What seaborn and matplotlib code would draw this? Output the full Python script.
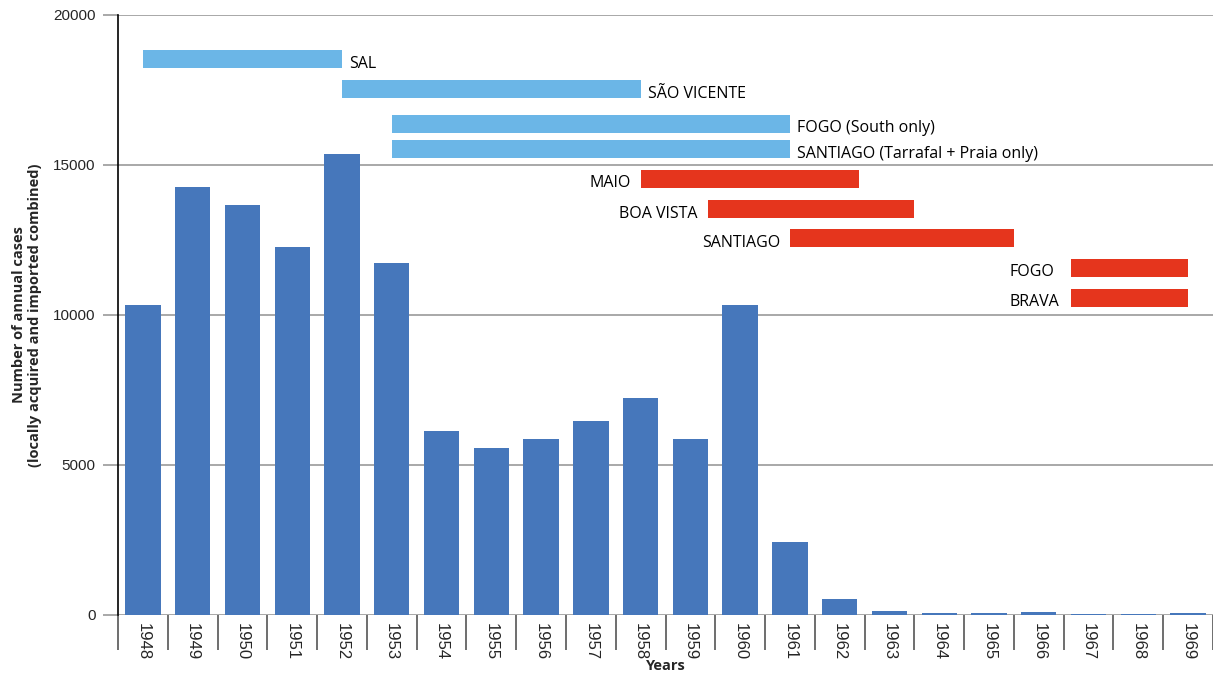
import matplotlib
matplotlib.use("Agg")
import matplotlib.pyplot as plt
import seaborn as sns
import pandas as pd
from matplotlib.ticker import FixedLocator, MultipleLocator

# annual malaria cases, Cabo Verde
years = [str(y) for y in range(1948, 1970)]
cases = [10350, 14280, 13650, 12280, 15350, 11720, 6150, 5580, 5880, 6480,
         7230, 5880, 10320, 2450, 540, 140, 60, 60, 100, 25, 25, 60]

# spraying periods (start / end in years, row level in cases)
ds_islands = ["SAL", "SÃO VICENTE", "FOGO (South only)", "SANTIAGO (Tarrafal + Praia only)"]
ds_start = [1948, 1952, 1953, 1953]
ds_end = [1952, 1958, 1961, 1961]
ds_level = [18530, 17520, 16380, 15520]

red_islands = ["MAIO", "BOA VISTA", "SANTIAGO", "FOGO", "BRAVA"]
red_start = [1958, 1959.35, 1961, 1966.64, 1966.64]
red_end = [1962.38, 1963.5, 1965.5, 1969, 1969]
red_level = [14530, 13520, 12550, 11570, 10570]

BLUE = "#4677bb"
LIGHT = "#6bb6e7"
RED = "#e5351d"
GRID = "#999999"

sns.set_theme(style="white")
plt.rcParams["font.family"] = ["Liberation Sans", "DejaVu Sans"]

fig = plt.figure(figsize=(12.13, 6.75), dpi=100)
ax = fig.add_axes([118 / 1213, 60 / 675, 1095 / 1213, 600 / 675])

df = pd.DataFrame({"Year": years, "Cases": cases})
sns.barplot(data=df, x="Year", y="Cases", color=BLUE, saturation=1, width=0.71,
            linewidth=0, ax=ax, zorder=3)

bar_h = 600
lab_font = dict(family=["Open Sans", "DejaVu Sans"], fontsize=11.5, color="black")
for name, s, e, lv in zip(ds_islands, ds_start, ds_end, ds_level):
    ax.barh(lv, e - s, left=s - 1948, height=bar_h, color=LIGHT, linewidth=0, zorder=3)
    ax.text(e - 1948 + 0.14, lv - bar_h / 2 + 20, name, ha="left", va="baseline", **lab_font)
for name, s, e, lv in zip(red_islands, red_start, red_end, red_level):
    ax.barh(lv, e - s, left=s - 1948, height=bar_h, color=RED, linewidth=0, zorder=3)
    if name in ("FOGO", "BRAVA"):
        ax.text(s - 1948 - 1.23, lv - bar_h / 2 + 20, name, ha="left", va="baseline", **lab_font)
    else:
        ax.text(s - 1948 - 0.2, lv - bar_h / 2 + 20, name, ha="right", va="baseline", **lab_font)

ax.set_xlim(-0.5, len(years) - 0.5)
ax.set_ylim(0, 20000)
ax.yaxis.set_major_locator(MultipleLocator(5000))
ax.grid(axis="y", color=GRID, linewidth=1.2, zorder=0)
ax.grid(axis="x", visible=False)

for side in ["top", "right", "bottom"]:
    ax.spines[side].set_visible(False)
ax.spines["left"].set_color("black")
ax.spines["left"].set_linewidth(1.2)

ax.tick_params(axis="y", which="major", length=11, color=GRID, width=1.2, labelsize=11, pad=5, left=True)
ax.set_xticks(range(len(years)))
ax.set_xticklabels(years, rotation=-90, fontsize=12)
ax.tick_params(axis="x", which="major", length=0, pad=6)
ax.xaxis.set_minor_locator(FixedLocator([i - 0.5 for i in range(len(years) + 1)]))
ax.tick_params(axis="x", which="minor", length=25, color="#555555", width=1.2, bottom=True)

ax.set_xlabel("Years", fontsize=10.5, fontweight="bold", labelpad=-1,
              family=["Open Sans", "DejaVu Sans"])
ax.set_ylabel("Number of annual cases\n(locally acquired and imported combined)",
              fontsize=10.5, fontweight="bold", labelpad=8, family=["Open Sans", "DejaVu Sans"])

fig.savefig("out.png", dpi=100)
